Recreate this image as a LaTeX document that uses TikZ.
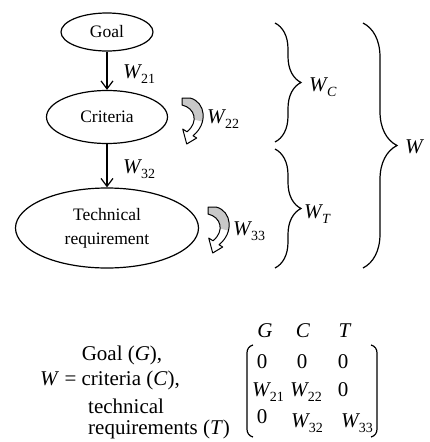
\documentclass[tikz,border=0pt]{standalone}
\usepackage{fontspec}
\setmainfont{Liberation Serif}
\usetikzlibrary{shapes.geometric,arrows.meta,decorations.pathreplacing}
\newcommand\Wsub[1]{\textit{W}\kern-0.06em\raisebox{-0.28em}{\fontsize{14}{14}\selectfont #1}}
\definecolor{loopgray}{RGB}{200,200,200}
\tikzset{
  lbl/.style={font=\fontsize{21}{21}\selectfont, inner sep=0, anchor=base west},
  ent/.style={font=\fontsize{21}{21}\selectfont, inner sep=0, anchor=base},
  ell/.style={draw, line width=1.2pt, ellipse, inner sep=0, font=\fontsize{17.5}{24}\selectfont, align=center},
  arr/.style={-{Straight Barb[length=8pt,width=12pt]}, line width=1.2pt},
  brc/.style={line width=1.2pt, decorate},
  looparrow/.pic={
    \fill[white] (0,0) -- (8,0) .. controls (24,-4) and (26,-26) .. (11,-37.7) -- (14.7,-40) -- (4.7,-46) -- (0.7,-31) -- (5,-33.8) .. controls (17,-24) and (13,-10) .. (0,-7) -- cycle;
    \begin{scope}
      \clip (0,0) -- (8,0) .. controls (24,-4) and (26,-26) .. (11,-37.7) -- (14.7,-40) -- (4.7,-46) -- (0.7,-31) -- (5,-33.8) .. controls (17,-24) and (13,-10) .. (0,-7) -- cycle;
      \fill[loopgray] (-2,2) -- (30,2) -- (30,-26) -- (-2,-18) -- cycle;
    \end{scope}
    \draw[line width=1pt, line join=round] (0,0) -- (8,0) .. controls (24,-4) and (26,-26) .. (11,-37.7) -- (14.7,-40) -- (4.7,-46) -- (0.7,-31) -- (5,-33.8) .. controls (17,-24) and (13,-10) .. (0,-7) -- cycle;
  }
}
\begin{document}
\begin{tikzpicture}[x=1pt,y=1pt]
\useasboundingbox (0,0) rectangle (430,-442);
% nodes
\node[ell, minimum width=92pt, minimum height=38pt] (goal) at (107,-32) {Goal};
\node[ell, minimum width=121pt, minimum height=53pt] (crit) at (107,-117) {Criteria};
\node[ell, minimum width=183pt, minimum height=80pt] (tech) at (107,-228) {Technical\\requirement};
\draw[arr] (goal) -- (crit);
\draw[arr] (crit) -- (tech);
\node[lbl] (w21) at (123,-78) {\Wsub{21}};
\node[lbl] (w32) at (123,-173) {\Wsub{32}};
% loops
\pic at (182,-98) {looparrow};
\pic at (208,-207) {looparrow};
\node[lbl] (w22) at (207,-123) {\Wsub{22}};
\node[lbl] (w33) at (233,-235) {\Wsub{33}};
% braces
\draw[brc, decoration={brace, amplitude=26pt}] (275,-23) -- (275,-142);
\draw[brc, decoration={brace, amplitude=26pt}] (275,-149) -- (275,-268);
\draw[brc, decoration={brace, amplitude=34pt}] (363,-23) -- (363,-268);
\node[lbl] (wc) at (309,-91) {\Wsub{\textit{C}}};
\node[lbl] (wt) at (304,-218) {\Wsub{\textit{T}}};
\node[lbl] (w) at (405,-153) {\textit{W}};
% bottom text
\node[ent] (tg) at (122,-360) {Goal (\textit{G}),};
\node[lbl] (tw) at (40,-385) {\textit{W} = criteria (\textit{C}),};
\node[lbl] (tt1) at (88,-413) {technical};
\node[lbl] (tt2) at (88,-434) {requirements (\textit{T})};
% matrix
\node[ent] (hg) at (265,-337) {\textit{G}};
\node[ent] (hc) at (303,-337) {\textit{C}};
\node[ent] (ht) at (345,-337) {\textit{T}};
\node[ent] (m11) at (262,-368) {0};
\node[ent] (m12) at (302,-368) {0};
\node[ent] (m13) at (343,-368) {0};
\node[ent] (m21) at (268,-396) {\Wsub{21}};
\node[ent] (m22) at (306,-396) {\Wsub{22}};
\node[ent] (m23) at (343,-396) {0};
\node[ent] (m31) at (262,-423) {0};
\node[ent] (m32) at (307,-427) {\Wsub{32}};
\node[ent] (m33) at (357,-427) {\Wsub{33}};
\draw[line width=1.2pt] (253,-345) .. controls (249,-346) and (247,-349) .. (247,-353) -- (247,-429) .. controls (247,-433) and (249,-436) .. (253,-437);
\draw[line width=1.2pt] (371,-345) .. controls (375,-346) and (377,-349) .. (377,-353) -- (377,-429) .. controls (377,-433) and (375,-436) .. (371,-437);
\end{tikzpicture}
\end{document}
